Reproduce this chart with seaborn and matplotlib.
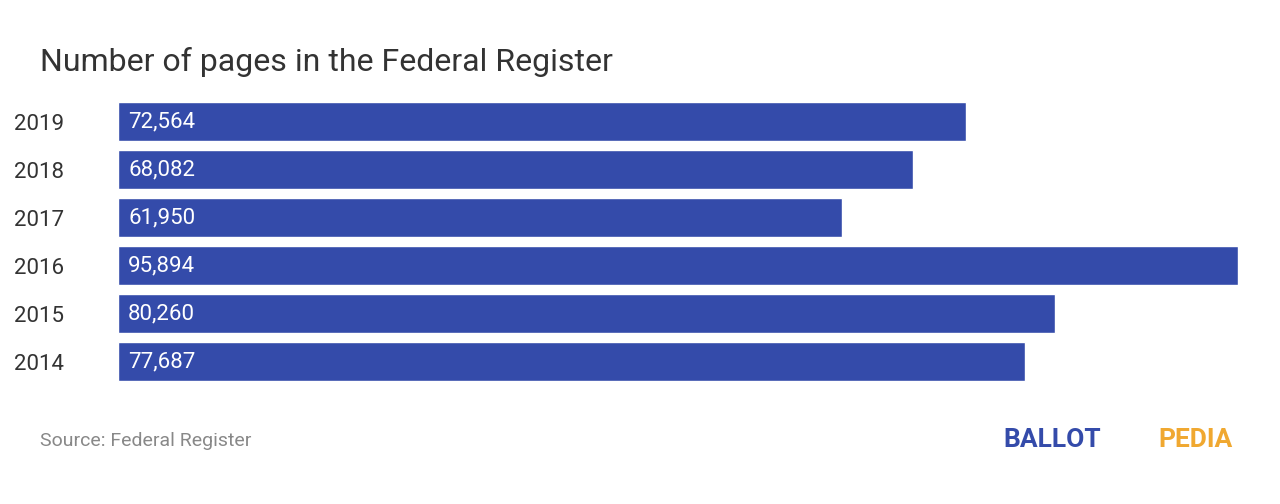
import matplotlib
matplotlib.use("Agg")
import matplotlib.pyplot as plt
import pandas as pd
import seaborn as sns

years = ["2019", "2018", "2017", "2016", "2015", "2014"]
pages = [72564, 68082, 61950, 95894, 80260, 77687]

df = pd.DataFrame({"year": years, "pages": pages})

sns.set_style("white")
plt.rcParams["font.family"] = ["Roboto", "DejaVu Sans"]

fig = plt.figure(figsize=(12.8, 5.04), dpi=100)
ax = fig.add_axes([118 / 1280, (504 - 385.5) / 504, 1120 / 1280, 288 / 504])
sns.barplot(data=df, x="pages", y="year", color="#344BAA", saturation=1,
            width=0.83, ax=ax, orient="h")
ax.set_xlim(0, max(pages))
ax.set_ylim(5.5, -0.5)
ax.set_xlabel("")
ax.set_ylabel("")
ax.set_xticks([])
ax.tick_params(axis="y", length=0, pad=20, labelsize=16, labelcolor="#333333")
for lbl in ax.get_yticklabels():
    lbl.set_horizontalalignment("left")
    lbl.set_x(-76 / 1120)
sns.despine(ax=ax, left=True, bottom=True)

for i, v in enumerate(pages):
    ax.text(max(pages) * 10 / 1120, i, f"{v:,}", color="white", fontsize=16,
            va="center", ha="left")

fig.text(40 / 1280, 1 - 62 / 504, "Number of pages in the Federal Register",
         fontsize=23, color="#333333", va="center", ha="left")
fig.text(40 / 1280, 1 - 441 / 504, "Source: Federal Register",
         fontsize=14, color="#888888", va="center", ha="left")
fig.text(1003 / 1280, 1 - 440 / 504, "BALLOT", fontsize=19, fontweight="bold",
         color="#344BAA", va="center", ha="left")
fig.text(1233 / 1280, 1 - 440 / 504, "PEDIA", fontsize=19, fontweight="bold",
         color="#F0A830", va="center", ha="right")

fig.savefig("out.png", dpi=100)
